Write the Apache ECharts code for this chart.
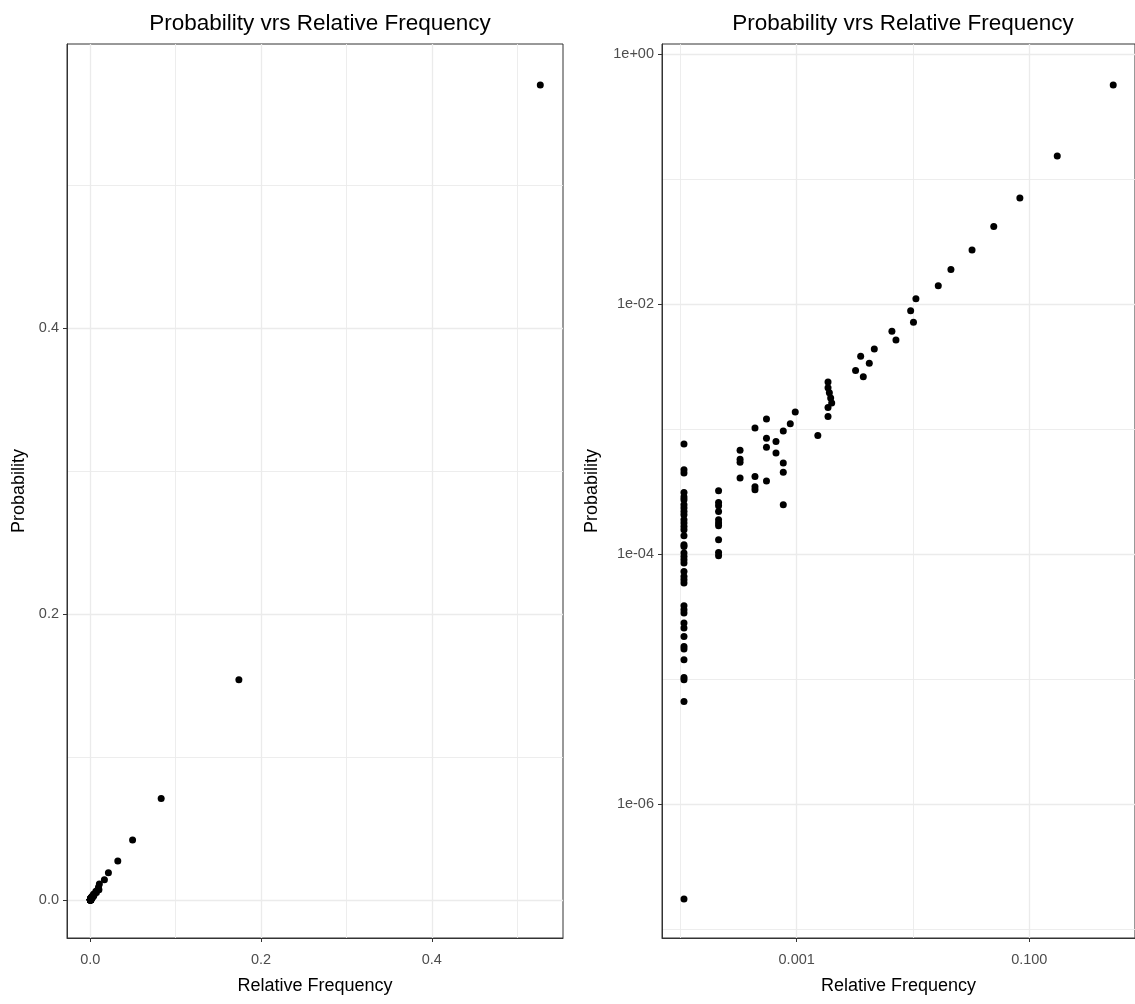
<!DOCTYPE html>
<html>
<head>
<meta charset="utf-8">
<script src="https://cdn.jsdelivr.net/npm/echarts@6/dist/echarts.min.js"></script>
<style>
html,body{margin:0;padding:0;background:#ffffff;}
#chart{width:1135px;height:1004px;}
</style>
</head>
<body>
<div id="chart"></div>
<script>
// ---------------- data ----------------
const chartTitle = 'Probability vrs Relative Frequency';
const xName = 'Relative Frequency';
const yName = 'Probability';

// outcomes with their own (distinct) relative frequency
const highFreq = [0.527, 0.174, 0.083, 0.0495, 0.0322, 0.0212, 0.0165, 0.0106, 0.0101, 0.00955,
  0.00714, 0.00659, 0.00465, 0.00421, 0.00374, 0.00355, 0.00321, 0.00186, 0.00186, 0.00191,
  0.00196, 0.00200, 0.00186, 0.00186, 0.00152, 0.000972, 0.000881];
const highProb = [0.570, 0.154, 0.0710, 0.0420, 0.0272, 0.0190, 0.0141, 0.0111, 0.00719, 0.00892,
  0.00520, 0.00609, 0.00440, 0.00338, 0.00264, 0.00385, 0.00296, 0.00240, 0.00215, 0.00196,
  0.00178, 0.00163, 0.00150, 0.00127, 0.000895, 0.00138, 0.00111];

// rare outcomes: shared relative-frequency levels, several probabilities each
const lowFreqLevels = [0.0001074, 0.000213, 0.000326, 0.000438, 0.000550, 0.000664, 0.000767];
const lowFreqProbs = [
  [7.64e-4, 4.76e-4, 4.48e-4, 3.13e-4, 2.876e-4, 2.735e-4, 2.495e-4, 2.348e-4, 2.206e-4, 2.076e-4,
   1.892e-4, 1.78e-4, 1.673e-4, 1.574e-4, 1.409e-4, 1.194e-4, 1.157e-4, 1.024e-4, 9.62e-5, 9.05e-5,
   8.52e-5, 7.29e-5, 6.65e-5, 6.26e-5, 5.89e-5, 3.88e-5, 3.6e-5, 3.39e-5, 2.818e-5, 2.57e-5,
   2.2e-5, 1.83e-5, 1.745e-5, 1.432e-5, 1.034e-5, 9.9e-6, 6.64e-6, 1.748e-7],
  [3.23e-4, 2.60e-4, 2.449e-4, 2.206e-4, 1.892e-4, 1.78e-4, 1.694e-4, 1.309e-4, 1.036e-4, 9.74e-5],
  [6.82e-4, 5.77e-4, 5.46e-4, 4.08e-4],
  [1.028e-3, 4.20e-4, 3.476e-4, 3.29e-4],
  [1.212e-3, 8.50e-4, 7.20e-4, 3.87e-4],
  [8.01e-4, 6.47e-4],
  [9.71e-4, 5.38e-4, 4.54e-4, 2.495e-4]
];

// axis ticks
const linTicks = [0, 0.2, 0.4];
const linMinor = [0.1, 0.3, 0.5];
const logXTicks = [0.001, 0.1];
const logXLabels = ['0.001', '0.100'];
const logXMinor = [0.0001, 0.01];
const logYTicks = [1e-6, 1e-4, 1e-2, 1];
const logYLabels = ['1e-06', '1e-04', '1e-02', '1e+00'];
const logYMinor = [1e-7, 1e-5, 1e-3, 1e-1];

// ---------------- build ----------------
const points = [];
highFreq.forEach((f, i) => points.push([f, highProb[i]]));
lowFreqLevels.forEach((f, i) => lowFreqProbs[i].forEach(p => points.push([f, p])));

const FONT = "'Liberation Sans', Arial, sans-serif";
const gridLine = '#ebebeb';
const dark = '#333333';

function majorAxis(opts) {
  const base = {
    gridIndex: opts.grid,
    type: opts.type,
    min: opts.min,
    max: opts.max,
    name: opts.name,
    nameLocation: 'middle',
    nameGap: opts.nameGap,
    nameTextStyle: { color: '#000', fontSize: 18, fontFamily: FONT },
    axisLine: { show: true, onZero: false, lineStyle: { color: dark, width: 1 } },
    axisTick: { show: true, length: 4, inside: false, lineStyle: { color: dark, width: 1 }, customValues: opts.ticks },
    axisLabel: {
      show: true, color: '#4d4d4d', fontSize: 14.5, fontFamily: FONT, margin: opts.labelMargin,
      customValues: opts.ticks,
      formatter: opts.formatter,
      showMinLabel: true, showMaxLabel: true
    },
    splitLine: { show: true, lineStyle: { color: gridLine, width: 1.3 } },
    minorTick: { show: false },
    minorSplitLine: { show: false }
  };
  if (opts.logBase) base.logBase = opts.logBase;
  return base;
}
function minorAxis(opts) {
  const base = {
    gridIndex: opts.grid,
    type: opts.type,
    min: opts.min,
    max: opts.max,
    position: opts.position,
    axisLine: { show: false },
    axisTick: { show: false, customValues: opts.ticks },
    axisLabel: { show: false, customValues: opts.ticks },
    splitLine: { show: true, lineStyle: { color: gridLine, width: 0.9 } }
  };
  if (opts.logBase) base.logBase = opts.logBase;
  return base;
}

// panel ranges (ggplot-style 5% expansion)
const L = { xmin: -0.0273, xmax: 0.5536, ymin: -0.0266, ymax: 0.5986 };
const R = { xmin: Math.pow(10, -4.158), xmax: Math.pow(10, -0.091), ymin: Math.pow(10, -7.07), ymax: Math.pow(10, 0.084) };

function logLabel(ticks, labels) {
  return v => {
    const i = ticks.findIndex(t => Math.abs(Math.log10(t) - Math.log10(v)) < 1e-6);
    return i >= 0 ? labels[i] : '';
  };
}

const option = {
  backgroundColor: '#ffffff',
  animation: false,
  title: [
    { text: chartTitle, left: 315, top: 7, textAlign: 'center',
      textStyle: { color: '#000', fontSize: 22.5, fontWeight: 'normal', fontFamily: FONT } },
    { text: chartTitle, left: 898, top: 7, textAlign: 'center',
      textStyle: { color: '#000', fontSize: 22.5, fontWeight: 'normal', fontFamily: FONT } }
  ],
  grid: [
    { left: 67, top: 44, width: 496, height: 894, show: true, borderColor: dark, borderWidth: 1, backgroundColor: 'transparent', containLabel: false },
    { left: 662, top: 44, width: 473, height: 894, show: true, borderColor: dark, borderWidth: 1, backgroundColor: 'transparent', containLabel: false }
  ],
  xAxis: [
    majorAxis({ grid: 0, type: 'value', min: L.xmin, max: L.xmax, name: xName, nameGap: 39, labelMargin: 14,
      ticks: linTicks, formatter: v => Number(v).toFixed(1) }),
    minorAxis({ grid: 0, type: 'value', min: L.xmin, max: L.xmax, position: 'bottom', ticks: linMinor }),
    majorAxis({ grid: 1, type: 'log', logBase: 10, min: R.xmin, max: R.xmax, name: xName, nameGap: 39, labelMargin: 14,
      ticks: logXTicks, formatter: logLabel(logXTicks, logXLabels) }),
    minorAxis({ grid: 1, type: 'log', logBase: 10, min: R.xmin, max: R.xmax, position: 'bottom', ticks: logXMinor })
  ],
  yAxis: [
    majorAxis({ grid: 0, type: 'value', min: L.ymin, max: L.ymax, name: yName, nameGap: 39, labelMargin: 8,
      ticks: linTicks, formatter: v => Number(v).toFixed(1) }),
    minorAxis({ grid: 0, type: 'value', min: L.ymin, max: L.ymax, position: 'left', ticks: linMinor }),
    majorAxis({ grid: 1, type: 'log', logBase: 10, min: R.ymin, max: R.ymax, name: yName, nameGap: 61, labelMargin: 8,
      ticks: logYTicks, formatter: logLabel(logYTicks, logYLabels) }),
    minorAxis({ grid: 1, type: 'log', logBase: 10, min: R.ymin, max: R.ymax, position: 'left', ticks: logYMinor })
  ],
  series: [
    { type: 'scatter', xAxisIndex: 0, yAxisIndex: 0, data: points, symbol: 'circle', symbolSize: 7,
      itemStyle: { color: '#000000', opacity: 1 }, silent: true, z: 5 },
    { type: 'scatter', xAxisIndex: 2, yAxisIndex: 2, data: points, symbol: 'circle', symbolSize: 7,
      itemStyle: { color: '#000000', opacity: 1 }, silent: true, z: 5 }
  ]
};

const chart = echarts.init(document.getElementById('chart'), null, { renderer: 'canvas' });
chart.setOption(option);
</script>
</body>
</html>
